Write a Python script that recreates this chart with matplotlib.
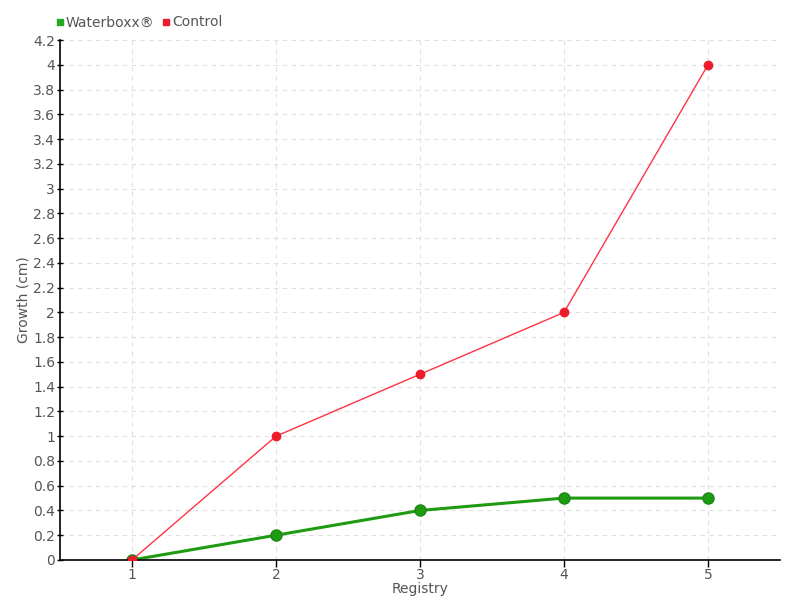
import matplotlib
matplotlib.use("Agg")
import matplotlib.pyplot as plt
from matplotlib.lines import Line2D

registry = [1, 2, 3, 4, 5]
waterboxx = [0, 0.2, 0.4, 0.5, 0.5]
control = [0, 1, 1.5, 2, 4]
y_ticks = [round(0.2 * i, 1) for i in range(22)]

GREEN = "#1f9a13"
RED = "#ec1c2a"
TEXT = "#555555"

plt.rcParams["font.family"] = ["DejaVu Sans"]

fig = plt.figure(figsize=(8, 6), dpi=100)
ax = fig.add_axes([0.075, 0.0667, 0.9, 0.8666])

ax.plot(registry, control, color="#ff3344", lw=1, marker="o", ms=6,
        mfc=RED, mec=RED, zorder=3)
ax.plot(registry, waterboxx, color=GREEN, lw=2.2, marker="o", ms=8,
        mfc=GREEN, mec="#178a10", zorder=2)

ax.set_xlim(0.5, 5.5)
ax.set_ylim(0, 4.2)
ax.set_xticks(registry)
ax.set_yticks(y_ticks)
ax.set_yticklabels([f"{v:g}" for v in y_ticks])
ax.grid(True, color="#e0e0e0", ls=(0, (4, 4)), lw=0.8)
ax.set_axisbelow(True)
for s in ("top", "right"):
    ax.spines[s].set_visible(False)
for s in ("left", "bottom"):
    ax.spines[s].set_linewidth(1.2)
ax.tick_params(axis="both", colors="black", labelcolor=TEXT, labelsize=10,
               length=5, width=1)
ax.tick_params(axis="y", direction="inout", pad=1)
ax.tick_params(axis="x", pad=1)

ax.set_xlabel("Registry", color=TEXT, fontsize=10, labelpad=0)
ax.set_ylabel("Growth (cm)", color=TEXT, fontsize=10, labelpad=2)

handles = [
    Line2D([], [], ls="", marker="s", ms=4, color="#22aa22"),
    Line2D([], [], ls="", marker="s", ms=4, color=RED),
]
fig.legend(handles, ["Waterboxx®", "Control"], loc="upper left",
           bbox_to_anchor=(0.052, 0.995), ncol=2, frameon=False,
           handletextpad=0.0, columnspacing=0.5, fontsize=10,
           labelcolor=TEXT, handlelength=0.8)

fig.savefig("out.png", dpi=100)
